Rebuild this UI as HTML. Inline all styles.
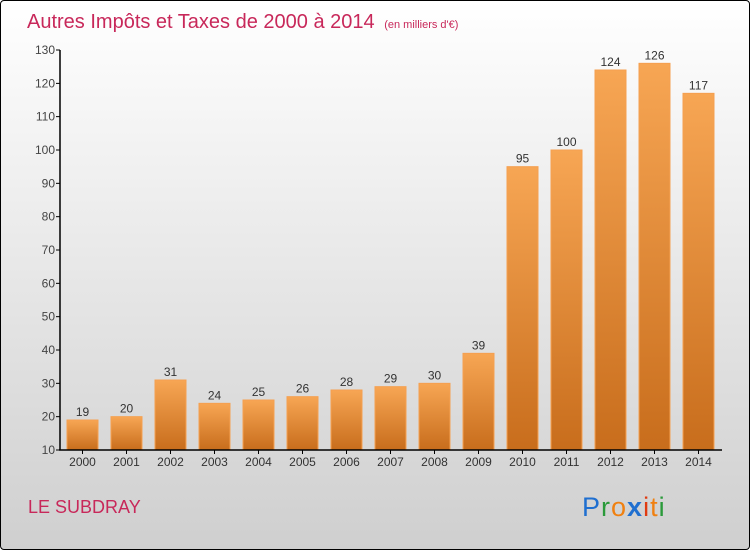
<!DOCTYPE html>
<html><head><meta charset="utf-8"><style>
body{margin:0}
#c{width:748px;height:548px;border:1px solid #000;border-radius:4px;background:linear-gradient(#ffffff,#cfcfcf);position:relative;overflow:hidden;font-family:"Liberation Sans",sans-serif}
</style></head><body>
<div id="c">
<svg width="748" height="548" viewBox="1 1 748 548" id="s">
<defs><linearGradient id="g" x1="0" y1="0" x2="0" y2="1"><stop offset="0" stop-color="#f7a654"/><stop offset="1" stop-color="#c86d1c"/></linearGradient></defs>
<text x="27" y="28" font-size="20" fill="#c8285a">Autres Impôts et Taxes de 2000 à 2014 <tspan font-size="11" dx="4">(en milliers d'€)</tspan></text>
<text x="28" y="513" font-size="18" fill="#c8285a">LE SUBDRAY</text>
<text x="582" y="516" font-size="27" letter-spacing="1"><tspan fill="#1f6fd0">P</tspan><tspan fill="#2a9a3a">r</tspan><tspan fill="#f08010">o</tspan><tspan fill="#1f6fd0" font-weight="bold">x</tspan><tspan fill="#e03a10">i</tspan><tspan fill="#f08010">t</tspan><tspan fill="#2a9a3a">i</tspan></text>
<g id="plot"></g>
</svg></div>
<script>
const years=["2000","2001","2002","2003","2004","2005","2006","2007","2008","2009","2010","2011","2012","2013","2014"];
const values=[19,20,31,24,25,26,28,29,30,39,95,100,124,126,117];
const yTicks=[10,20,30,40,50,60,70,80,90,100,110,120,130];
const ns="http://www.w3.org/2000/svg",p=document.getElementById('plot');
const y=v=>450-(v-10)*400/120, x=i=>82.5+i*44;
function mk(t,a,txt){const e=document.createElementNS(ns,t);for(const k in a)e.setAttribute(k,a[k]);if(txt!=null)e.textContent=txt;p.appendChild(e);return e;}
yTicks.forEach(v=>{
 const l=mk('line',{x1:56,x2:60,y1:y(v),y2:y(v),stroke:'#000'});
 
 
 const t=mk('text',{x:55,y:y(v)+4,'font-size':12,fill:'#444','text-anchor':'end'},v);
 
 
});
values.forEach((v,i)=>{
 const b=mk('rect',{x:x(i)-15.5,y:y(v),width:31,height:450-y(v),fill:'url(#g)',stroke:'#f5a050','stroke-width':1});
 
 
 const t=mk('text',{x:x(i),y:y(v)-4,'font-size':12,fill:'#333','text-anchor':'middle'},v);
 
 
 const k=mk('line',{x1:x(i),x2:x(i),y1:450,y2:454,stroke:'#000'});
 
 
 const xl=mk('text',{x:x(i),y:466,'font-size':12,fill:'#333','text-anchor':'middle'},years[i]);
 
 
});
const ya=mk('line',{x1:60,x2:60,y1:50,y2:450,stroke:'#000','stroke-width':1.5});


const xa=mk('line',{x1:59,x2:722,y1:450,y2:450,stroke:'#000','stroke-width':1.5});


</script></body></html>
